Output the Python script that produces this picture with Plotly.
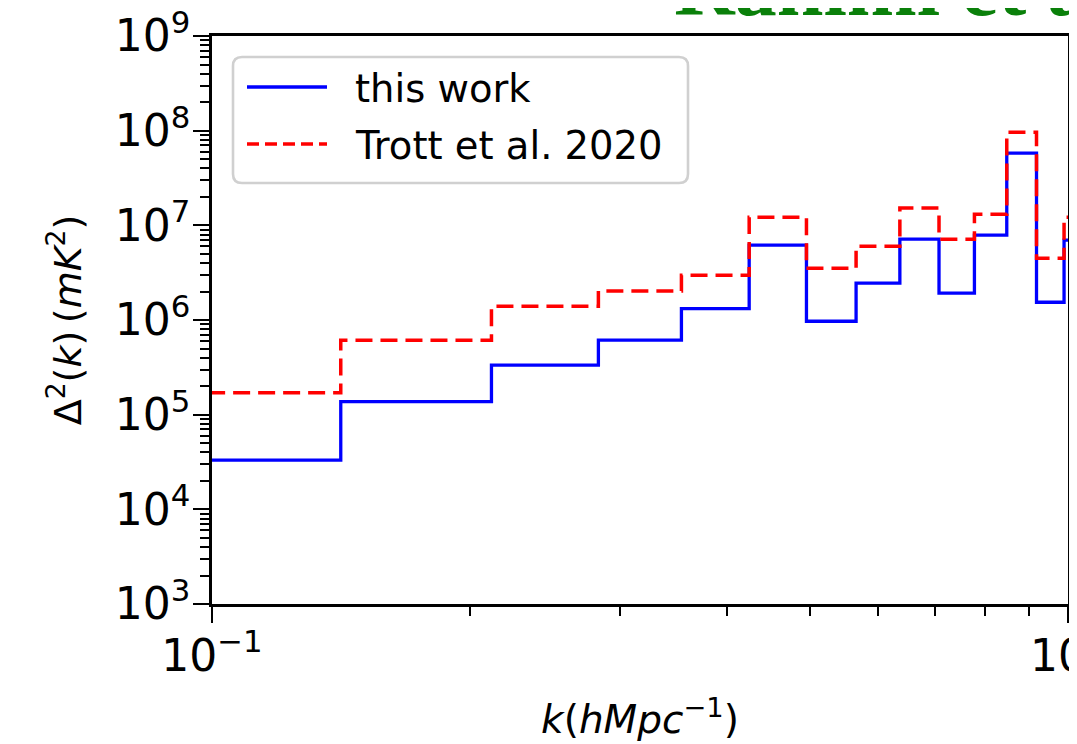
import plotly.graph_objects as go

# ---- data ----
k_edges = [0.0707, 0.1414, 0.2121, 0.2828, 0.3536, 0.4243, 0.4950, 0.5657,
           0.6364, 0.7071, 0.7778, 0.8485, 0.9192, 0.9899, 1.0607]
this_work = [3.31e4, 1.37e5, 3.34e5, 6.12e5, 1.32e6, 6.17e6, 9.7e5, 2.45e6,
             7.14e6, 1.92e6, 7.87e6, 5.78e7, 1.54e6, 6.97e6]
trott2020 = [1.70e5, 6.12e5, 1.40e6, 2.02e6, 2.97e6, 1.22e7, 3.53e6, 6.03e6,
             1.52e7, 7.14e6, 1.31e7, 9.62e7, 4.50e6, 1.22e7]
series_names = ["this work", "Trott et al. 2020"]
x_tickvals = [0.1, 1]
x_ticktext = ["10<sup>−1</sup>", "10<sup>0</sup>"]
y_tickvals = [1e3, 1e4, 1e5, 1e6, 1e7, 1e8, 1e9]
y_ticktext = ["10<sup>%d</sup>" % n for n in range(3, 10)]
x_minor = [m / 10 for m in range(2, 10)]
y_minor = [m * 10 ** n for n in range(3, 9) for m in range(2, 10)]

OFF = 8  # default page margin around the plot div
W, H = 1069, 736
L, R, T, B = 204, 9, 28, 140
pw, ph = W - L - R, H - T - B

def px(x):  # page pixel -> paper fraction
    return (x - OFF - L) / pw

def py(y):
    return (H - B - (y - OFF)) / ph

FONT = "DejaVu Sans"
fig = go.Figure()
fig.add_trace(go.Scatter(x=k_edges, y=this_work + [this_work[-1]], mode="lines",
                         line=dict(color="#0000ff", width=3.3, shape="hv"),
                         name=series_names[0], showlegend=False))
fig.add_trace(go.Scatter(x=k_edges, y=trott2020 + [trott2020[-1]], mode="lines",
                         line=dict(color="#ff0000", width=3.5, shape="hv", dash="17px,8px"),
                         name=series_names[1], showlegend=False))

axis_common = dict(showline=True, linecolor="black", linewidth=2.6, mirror=True,
                   showgrid=False, zeroline=False, ticks="outside", ticklen=16,
                   tickwidth=2.4, tickcolor="black", automargin=False,
                   ticklabeloverflow="allow",
                   tickfont=dict(family=FONT, size=44, color="black"))

fig.update_xaxes(type="log", range=[-1, 0.0002], tickmode="array", tickvals=x_tickvals,
                 ticktext=x_ticktext, ticklabelstandoff=-5,
                 minor=dict(ticks="outside", ticklen=9, tickwidth=1.8, tickcolor="black",
                            tickmode="array", tickvals=x_minor, showgrid=False),
                 title=dict(text="<i>k</i>(<i>hMpc</i><sup>−1</sup>)",
                            font=dict(family=FONT, size=39, color="black"), standoff=27),
                 **axis_common)
fig.update_yaxes(type="log", range=[3, 9], tickmode="array", tickvals=y_tickvals,
                 ticktext=y_ticktext, ticklabelstandoff=-6,
                 minor=dict(ticks="outside", ticklen=9, tickwidth=1.8, tickcolor="black",
                            tickmode="array", tickvals=y_minor, showgrid=False),
                 title=dict(text="Δ<sup>2</sup>(<i>k</i>)\u2009(<i>mK</i><sup>2</sup>)",
                            font=dict(family=FONT, size=38, color="black"), standoff=22),
                 **axis_common)

# legend box (custom, matplotlib-like)
x0, x1, y0, y1, r = 233, 688, 57, 183, 9
path = (f"M{px(x0 + r)},{py(y0)} L{px(x1 - r)},{py(y0)} Q{px(x1)},{py(y0)} {px(x1)},{py(y0 + r)} "
        f"L{px(x1)},{py(y1 - r)} Q{px(x1)},{py(y1)} {px(x1 - r)},{py(y1)} "
        f"L{px(x0 + r)},{py(y1)} Q{px(x0)},{py(y1)} {px(x0)},{py(y1 - r)} "
        f"L{px(x0)},{py(y0 + r)} Q{px(x0)},{py(y0)} {px(x0 + r)},{py(y0)} Z")
shapes = [
    dict(type="path", xref="paper", yref="paper", path=path,
         line=dict(color="#d0d0d0", width=2.6), fillcolor="rgba(255,255,255,0.85)", layer="above"),
    dict(type="line", xref="paper", yref="paper", x0=px(247), x1=px(327), y0=py(87), y1=py(87),
         line=dict(color="#0000ff", width=3.3), layer="above"),
    dict(type="line", xref="paper", yref="paper", x0=px(247), x1=px(327), y0=py(144), y1=py(144),
         line=dict(color="#ff0000", width=3.5, dash="12px,6px"), layer="above"),
]
annotations = [
    dict(xref="paper", yref="paper", x=px(353), y=py(88), xanchor="left", yanchor="middle",
         text=series_names[0], showarrow=False, font=dict(family=FONT, size=38.5, color="black")),
    dict(xref="paper", yref="paper", x=px(353), y=py(145), xanchor="left", yanchor="middle",
         text=series_names[1], showarrow=False, font=dict(family=FONT, size=38.5, color="black")),
    dict(xref="paper", yref="paper", x=px(672), y=py(35), xanchor="left", yanchor="bottom",
         text="<b>Rahimi et al.</b>", showarrow=False,
         font=dict(family="Liberation Serif", size=84, color="#0a800a")),
]

fig.update_layout(width=W, height=H, margin=dict(l=L, r=R, t=T, b=B, pad=0),
                  paper_bgcolor="white", plot_bgcolor="white",
                  shapes=shapes, annotations=annotations, showlegend=False)
fig.write_html("out.html")
